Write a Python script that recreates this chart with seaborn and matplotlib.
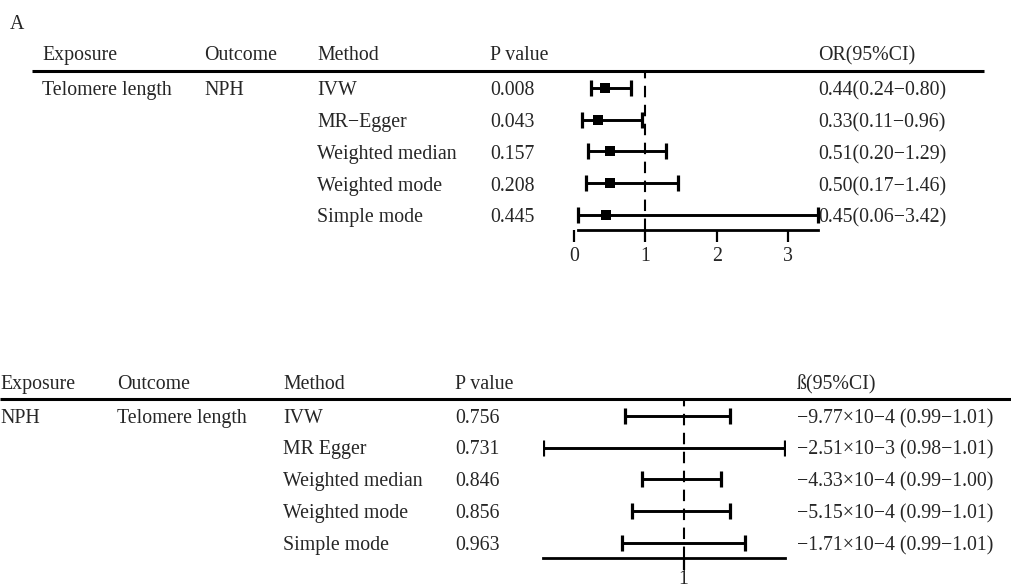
import numpy as np
import pandas as pd
import matplotlib
matplotlib.use("Agg")
import matplotlib.pyplot as plt
import seaborn as sns

# Datos panel A (exposición: longitud telomérica -> NPH)
metodos_a = ["IVW", "MR\u2212Egger", "Weighted median", "Weighted mode", "Simple mode"]
p_a = ["0.008", "0.043", "0.157", "0.208", "0.445"]
or_a = [0.44, 0.33, 0.51, 0.50, 0.45]
lo_a = [0.24, 0.11, 0.20, 0.17, 0.06]
hi_a = [0.80, 0.96, 1.29, 1.46, 3.42]

# Datos panel B (NPH -> longitud telomérica)
metodos_b = ["IVW", "MR Egger", "Weighted median", "Weighted mode", "Simple mode"]
p_b = ["0.756", "0.731", "0.846", "0.856", "0.963"]
beta_b = ["\u22129.77\u00d710\u22124", "\u22122.51\u00d710\u22123", "\u22124.33\u00d710\u22124",
          "\u22125.15\u00d710\u22124", "\u22121.71\u00d710\u22124"]
ci_b = ["(0.99\u22121.01)", "(0.98\u22121.01)", "(0.99\u22121.00)", "(0.99\u22121.01)", "(0.99\u22121.01)"]
lo_b = [0.9916, 0.9800, 0.9941, 0.9926, 0.9913]
hi_b = [1.0066, 1.0144, 1.0053, 1.0066, 1.0087]

df_a = pd.DataFrame({"metodo": metodos_a, "p": p_a, "est": or_a, "lo": lo_a, "hi": hi_a})
df_a["fila"] = np.arange(1, len(df_a) + 1)
df_b = pd.DataFrame({"metodo": metodos_b, "p": p_b, "lo": lo_b, "hi": hi_b})
df_b["fila"] = np.arange(1, len(df_b) + 1)

sns.set_theme(style="white")
plt.rcParams["font.family"] = ["Liberation Serif", "DejaVu Serif"]

W, H = 1011, 588
fig = plt.figure(figsize=(W / 100, H / 100), dpi=100)
FS = 14.3


def ejes_px(x0, y0, x1, y1):
  return fig.add_axes([x0 / W, 1 - y1 / H, (x1 - x0) / W, (y1 - y0) / H])


# Capa de texto en coordenadas de pixel
txt = fig.add_axes([0, 0, 1, 1])
txt.set_xlim(0, W)
txt.set_ylim(H, 0)
txt.axis("off")


def tabla(y_head, y_rows, xs, cabecera, filas, linea):
  for x, t in zip(xs, cabecera):
    txt.text(x, y_head, t, fontsize=FS, va="center_baseline", ha="left")
  for y, fila in zip(y_rows, filas):
    for x, t in zip(xs, fila):
      if t:
        txt.text(x, y, t, fontsize=FS, va="center_baseline", ha="left")
  txt.plot(linea[0], linea[1], color="black", lw=2.2, solid_capstyle="butt")


txt.text(10, 22, "A", fontsize=FS, va="center_baseline", ha="left")

filas_px_a = [88, 120, 152, 184, 215]
filas_a = []
for i, r in df_a.iterrows():
  filas_a.append(["Telomere length" if i == 0 else "", "NPH" if i == 0 else "", r["metodo"], r["p"],
                  f"{r['est']:.2f}({r['lo']:.2f}\u2212{r['hi']:.2f})"])
tabla(53, filas_px_a, [42, 204, 317, 490, 818],
      ["Exposure", "Outcome", "Method", "P value", "OR(95%CI)"], filas_a, ([32, 984], [71, 71]))

filas_px_b = [416, 447, 479, 511, 543]
filas_b = []
for i, r in df_b.iterrows():
  filas_b.append(["NPH" if i == 0 else "", "Telomere length" if i == 0 else "", r["metodo"], r["p"],
                  f"{beta_b[i]} {ci_b[i]}"])
tabla(382, filas_px_b, [0, 117, 283, 455, 797],
      ["Exposure", "Outcome", "Method", "P value", "\u00df(95%CI)"], filas_b, ([0, W], [399, 399]))


def forest(ax, df, puntos, ticks, pad):
  n = len(df)
  centro = df["est"] if puntos else pd.Series(np.ones(n))
  ax.errorbar(centro, df["fila"], xerr=[centro - df["lo"], df["hi"] - centro],
              fmt="none", ecolor="black", elinewidth=2.1, capsize=6, capthick=2.3)
  if puntos:
    sns.scatterplot(data=df, x="est", y="fila", marker="s", s=58, color="black",
                    edgecolor="black", linewidth=0, ax=ax, zorder=3, legend=False)
  ax.axvline(1, color="black", lw=1.5, dashes=(5.5, 3.6), zorder=1)
  ax.set_ylim(n + 0.47, 0.5)
  ax.patch.set_alpha(0)
  for s in ["top", "right", "left"]:
    ax.spines[s].set_visible(False)
  ax.spines["bottom"].set_bounds(df["lo"].min(), df["hi"].max())
  ax.spines["bottom"].set_linewidth(2.0)
  ax.spines["bottom"].set_color("black")
  ax.set_xticks(ticks)
  ax.set_xticklabels([str(t) for t in ticks])
  ax.set_yticks([])
  ax.tick_params(axis="x", bottom=True, length=8.5, width=1.6, color="black", labelsize=FS, pad=pad)
  ax.set_xlabel("")
  ax.set_ylabel("")


ax_a = ejes_px(574, 72, 574 + 3.5 * 71.33, 230)
ax_a.set_xlim(0, 3.5)
forest(ax_a, df_a, True, [0, 1, 2, 3], 3.5)

ax_b = ejes_px(543, 400, 785, 558)
forest(ax_b, df_b, False, [1], 0.5)
ax_b.set_xlim(min(lo_b), max(hi_b))

fig.savefig("out.png", dpi=100)
